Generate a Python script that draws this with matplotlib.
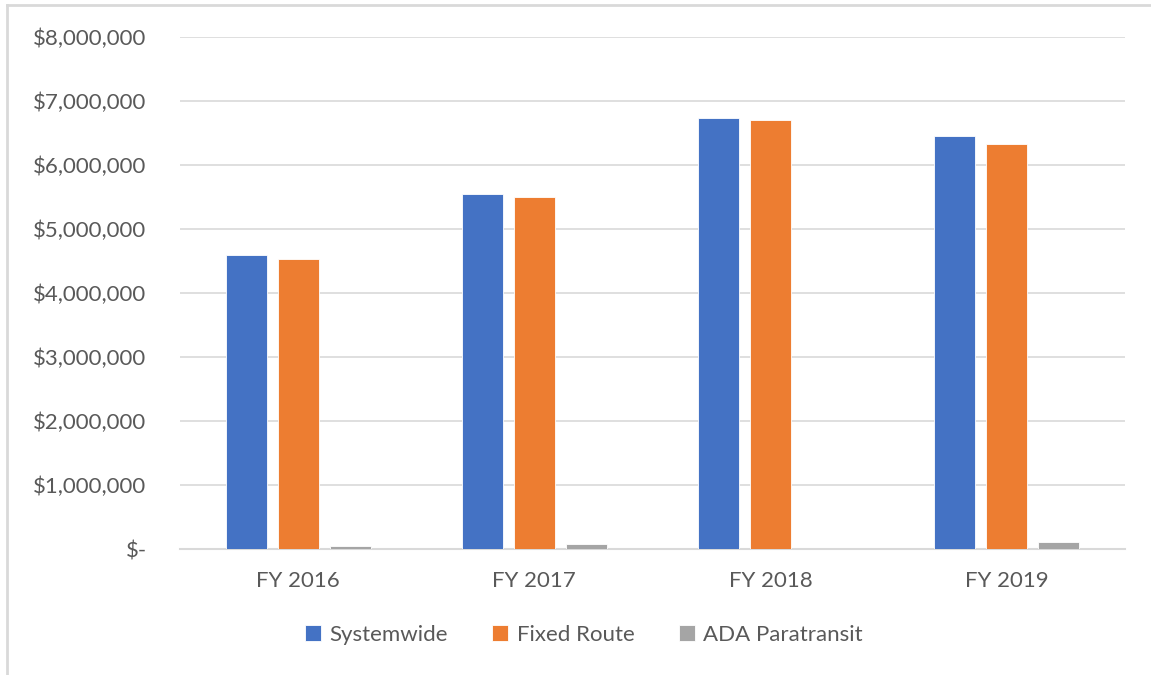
import numpy as np
import matplotlib.pyplot as plt
from matplotlib.lines import Line2D
from matplotlib.ticker import FuncFormatter

plt.rcParams['font.family'] = ['Lato', 'DejaVu Sans']

years = ["FY 2016", "FY 2017", "FY 2018", "FY 2019"]
systemwide = [4590000, 5550000, 6730000, 6450000]
fixed_route = [4525000, 5495000, 6710000, 6330000]
ada_paratransit = [52000, 78000, 0, 114000]

series = [
    ("Systemwide", systemwide, "#4472C4"),
    ("Fixed Route", fixed_route, "#ED7D31"),
    ("ADA Paratransit", ada_paratransit, "#A5A5A5"),
]

text_color = "#595959"
grid_color = "#D9D9D9"


def money(v, pos):
    if v == 0:
        return "$-"
    return f"${v:,.0f}"


fig = plt.figure(figsize=(11.51, 6.75), dpi=100)
ax = fig.add_axes([180 / 1151, 126 / 675, 945 / 1151, 512 / 675])

x = np.arange(len(years))
width = 0.174
step = 0.22
for i, (name, vals, color) in enumerate(series):
    ax.bar(x + (i - 1) * step, vals, width, color=color, label=name,
           edgecolor="white", linewidth=0.6, zorder=3)

ax.set_xlim(-0.5, len(years) - 0.5)
ax.set_ylim(0, 8000000)
ax.set_yticks(np.arange(0, 8000001, 1000000))
ax.yaxis.set_major_formatter(FuncFormatter(money))
ax.set_xticks(x)
ax.set_xticklabels(years)
ax.grid(axis="y", color=grid_color, linewidth=1.2, zorder=0)
for side in ["top", "right", "left"]:
    ax.spines[side].set_visible(False)
ax.spines["bottom"].set_color(grid_color)
ax.spines["bottom"].set_linewidth(1.5)
ax.tick_params(axis="both", length=0, colors=text_color, labelsize=16)
ax.tick_params(axis="y", pad=24)
ax.tick_params(axis="x", pad=16)

fig.legend(loc="center", bbox_to_anchor=(584 / 1151, 1 - 635 / 675), ncol=3,
           frameon=False, fontsize=16, labelcolor=text_color,
           handlelength=0.7, handleheight=0.7, handletextpad=0.4,
           columnspacing=2.0)

# outer chart frame (left and top edges)
fig.add_artist(Line2D([7.5 / 1151, 7.5 / 1151], [0, 1 - 5 / 675],
                      transform=fig.transFigure, color=grid_color, linewidth=2))
fig.add_artist(Line2D([7.5 / 1151, 1], [1 - 5 / 675, 1 - 5 / 675],
                      transform=fig.transFigure, color=grid_color, linewidth=2))

fig.savefig("out.png", dpi=100)
